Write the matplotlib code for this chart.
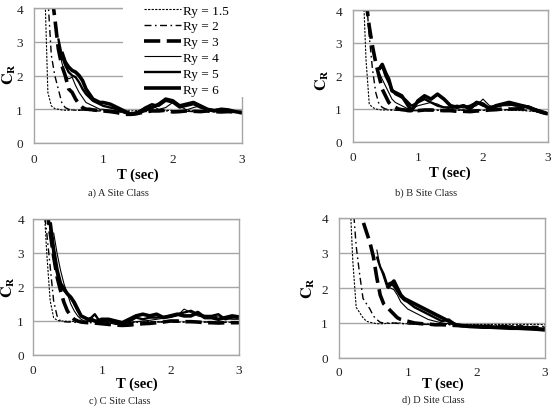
import numpy as np
import matplotlib
matplotlib.use("Agg")
import matplotlib.pyplot as plt
from matplotlib.patches import Rectangle

plt.rcParams['font.family'] = ['Liberation Serif', 'DejaVu Serif']
plt.rcParams['mathtext.fontset'] = 'stix'

nan = np.nan
T = [0.15, 0.2, 0.25, 0.3, 0.35, 0.4, 0.45, 0.5, 0.55, 0.6, 0.65, 0.7, 0.75, 0.8, 0.85, 0.9, 0.95, 1.0,
     1.1, 1.2, 1.3, 1.4, 1.5, 1.6, 1.7, 1.8, 1.9, 2.0, 2.1, 2.2, 2.3, 2.4, 2.5, 2.6, 2.7, 2.8, 2.9, 3.0]

labels = ['Ry = 1.5', 'Ry = 2', 'Ry = 3', 'Ry = 4', 'Ry = 5', 'Ry = 6']
captions = ['a) A Site Class', 'b) B Site Class', 'c) C Site Class', 'd) D Site Class']
x_ticks = [0, 1, 2, 3]
y_ticks = [0, 1, 2, 3, 4]

# Site class A
a_ry15 = [5.0, 1.5, 1.1, 1.02, 1.0, 0.98, 0.97, 0.97, 0.98, 0.97, 0.97, 0.98, 0.97, 0.97, 0.98, 0.97, 0.97, 0.97,
          0.97, 0.96, 0.96, 0.95, 0.96, 0.97, 0.97, 0.96, 0.97, 0.96, 0.95, 0.96, 0.96, 0.95, 0.95, 0.94, 0.94, 0.93, 0.92, 0.90]
a_ry2 = [nan, 4.3, 2.6, 2.0, 1.6, 1.2, 1.05, 1.0, 0.98, 0.97, 0.97, 0.98, 0.97, 0.96, 0.96, 0.95, 0.95, 0.95,
         0.94, 0.93, 0.9, 0.88, 0.9, 0.93, 0.95, 0.96, 0.95, 0.95, 0.94, 0.94, 0.93, 0.94, 0.93, 0.93, 0.92, 0.92, 0.91, 0.9]
a_ry3 = [nan, nan, 4.5, 3.7, 2.8, 2.3, 2.0, 1.6, 1.5, 1.3, 1.15, 1.05, 1.0, 1.0, 0.98, 0.97, 0.96, 0.95,
         0.93, 0.9, 0.85, 0.85, 0.88, 0.92, 0.95, 0.95, 0.97, 0.92, 0.93, 0.95, 0.94, 0.93, 0.95, 0.93, 0.92, 0.93, 0.92, 0.9]
a_ry4 = [nan, nan, nan, nan, 3.0, 2.4, 2.0, 1.9, 1.95, 1.7, 1.5, 1.35, 1.2, 1.15, 1.1, 1.05, 1.0, 1.0,
         0.97, 0.95, 0.9, 0.88, 0.95, 1.05, 1.1, 1.0, 1.05, 1.2, 1.1, 0.98, 1.05, 1.1, 1.0, 0.95, 0.95, 0.97, 0.93, 0.9]
a_ry5 = [nan, nan, nan, nan, 3.1, 2.6, 2.3, 2.1, 2.0, 1.95, 1.8, 1.6, 1.45, 1.35, 1.25, 1.2, 1.15, 1.1,
         1.05, 1.0, 0.9, 0.85, 0.9, 1.05, 1.15, 1.1, 1.25, 1.2, 1.05, 1.1, 1.15, 1.05, 1.0, 0.98, 1.0, 0.95, 0.93, 0.9]
a_ry6 = [nan, nan, nan, nan, nan, 2.7, 2.4, 2.25, 2.15, 2.1, 2.0, 1.85, 1.6, 1.45, 1.3, 1.25, 1.2, 1.2,
         1.15, 1.05, 0.95, 0.85, 0.88, 0.98, 1.05, 1.15, 1.3, 1.25, 1.1, 1.15, 1.2, 1.1, 1.0, 0.95, 1.0, 0.98, 0.93, 0.9]

# Site class B
b_ry15 = [5.0, 2.5, 1.15, 1.05, 1.0, 0.98, 0.97, 0.97, 0.97, 0.97, 0.96, 0.96, 0.96, 0.96, 0.96, 0.96, 0.96, 0.96,
          0.96, 0.97, 0.97, 0.96, 0.96, 0.96, 0.96, 0.96, 0.97, 0.96, 0.96, 0.97, 0.97, 0.96, 0.96, 0.95, 0.94, 0.92, 0.88, 0.85]
b_ry2 = [nan, 4.5, 3.2, 2.2, 1.5, 1.15, 1.05, 1.0, 0.98, 0.97, 0.96, 0.96, 0.96, 0.95, 0.95, 0.95, 0.95, 0.95,
         0.95, 0.95, 0.96, 0.96, 0.96, 0.97, 0.97, 0.97, 0.97, 0.97, 0.97, 0.98, 0.98, 0.98, 0.97, 0.97, 0.96, 0.95, 0.9, 0.85]
b_ry3 = [nan, 4.3, 3.5, 2.9, 2.4, 2.0, 1.6, 1.4, 1.2, 1.1, 1.05, 1.0, 0.98, 0.97, 0.95, 0.95, 0.95, 0.95,
         0.97, 0.97, 0.96, 0.95, 0.95, 0.93, 0.93, 0.92, 0.94, 0.95, 0.97, 0.98, 1.0, 1.0, 1.0, 1.02, 1.0, 0.97, 0.9, 0.85]
b_ry4 = [nan, nan, nan, nan, nan, 2.1, 1.9, 1.7, 1.5, 1.3, 1.2, 1.15, 1.1, 1.05, 1.0, 1.0, 1.05, 1.1,
         1.15, 1.2, 1.15, 1.05, 1.0, 1.05, 1.1, 1.05, 1.1, 1.3, 1.1, 1.05, 1.1, 1.1, 1.15, 1.1, 1.05, 1.0, 0.92, 0.85]
b_ry5 = [nan, nan, nan, nan, nan, 2.2, 2.3, 2.0, 1.8, 1.6, 1.45, 1.4, 1.35, 1.3, 1.2, 1.1, 1.15, 1.2,
         1.3, 1.2, 1.1, 1.05, 1.05, 1.1, 1.05, 1.1, 1.2, 1.1, 1.05, 1.1, 1.12, 1.15, 1.1, 1.1, 1.08, 1.0, 0.92, 0.85]
b_ry6 = [nan, nan, nan, nan, nan, 2.2, 2.35, 2.1, 1.9, 1.55, 1.5, 1.45, 1.4, 1.25, 1.1, 0.95, 1.1, 1.25,
         1.4, 1.3, 1.45, 1.3, 1.1, 1.05, 1.1, 1.0, 1.2, 1.15, 1.0, 1.1, 1.15, 1.2, 1.15, 1.1, 1.05, 0.97, 0.92, 0.85]

# Site class C
c_ry15 = [4.8, 3.0, 1.6, 1.1, 1.02, 1.0, 1.0, 0.99, 0.99, 0.99, 0.98, 0.98, 0.98, 0.98, 0.98, 0.98, 0.98, 0.98,
          0.98, 0.98, 0.98, 0.98, 0.98, 0.98, 0.98, 0.98, 0.98, 0.98, 0.97, 0.97, 0.97, 0.97, 0.97, 0.97, 0.97, 0.97, 0.96, 0.96]
c_ry2 = [4.5, 3.6, 2.6, 1.6, 1.15, 1.0, 0.98, 0.97, 0.97, 0.96, 0.96, 0.96, 0.95, 0.95, 0.95, 0.95, 0.95, 0.95,
         0.95, 0.94, 0.94, 0.95, 0.96, 0.96, 0.97, 0.97, 0.97, 0.97, 0.97, 0.97, 0.97, 0.97, 0.97, 0.97, 0.96, 0.96, 0.96, 0.95]
c_ry3 = [nan, 4.3, 3.6, 2.9, 2.3, 1.9, 1.55, 1.3, 1.15, 1.05, 1.0, 0.97, 0.96, 0.95, 0.95, 0.94, 0.93, 0.92,
         0.9, 0.88, 0.87, 0.88, 0.9, 0.92, 0.93, 0.95, 0.97, 1.0, 1.0, 0.98, 0.98, 0.97, 0.95, 0.95, 0.94, 0.95, 0.95, 0.95]
c_ry4 = [nan, nan, nan, 3.6, 3.0, 2.5, 2.1, 1.8, 1.5, 1.3, 1.15, 1.05, 1.0, 1.0, 0.98, 1.0, 1.0, 1.0,
         0.95, 0.9, 0.88, 0.92, 0.98, 1.0, 1.02, 1.05, 1.08, 1.1, 1.15, 1.35, 1.25, 1.15, 1.1, 1.1, 1.15, 1.08, 1.05, 1.05]
c_ry5 = [nan, nan, 3.8, 3.0, 2.4, 2.0, 1.9, 1.8, 1.7, 1.5, 1.3, 1.15, 1.1, 1.05, 1.1, 1.2, 1.05, 1.0,
         1.0, 0.95, 0.9, 0.98, 1.1, 1.05, 1.1, 1.1, 1.12, 1.15, 1.2, 1.25, 1.3, 1.2, 1.15, 1.15, 1.2, 1.05, 1.1, 1.1]
c_ry6 = [nan, nan, 3.9, 3.1, 2.5, 2.1, 1.95, 1.8, 1.7, 1.55, 1.35, 1.15, 1.1, 1.05, 1.05, 1.0, 1.0, 1.05,
         1.05, 1.0, 0.95, 1.05, 1.15, 1.2, 1.15, 1.2, 1.1, 1.15, 1.2, 1.15, 1.15, 1.25, 1.1, 1.1, 1.05, 1.1, 1.15, 1.12]

# Site class D
d_ry15 = [5.0, 2.8, 1.45, 1.3, 1.15, 1.05, 1.02, 1.0, 0.98, 0.98, 0.98, 0.99, 0.99, 1.0, 1.0, 1.0, 0.98, 0.98,
          0.97, 0.97, 0.97, 0.96, 0.96, 0.96, 0.96, 0.96, 0.96, 0.96, 0.96, 0.96, 0.96, 0.96, 0.96, 0.96, 0.96, 0.96, 0.96, 0.95]
d_ry2 = [nan, 4.5, 3.2, 2.4, 1.7, 1.55, 1.4, 1.2, 1.1, 1.02, 1.0, 1.0, 1.0, 1.0, 0.99, 0.98, 0.98, 0.97,
         0.97, 0.96, 0.96, 0.95, 0.95, 0.95, 0.94, 0.94, 0.94, 0.94, 0.93, 0.93, 0.93, 0.93, 0.92, 0.92, 0.92, 0.91, 0.9, 0.9]
d_ry3 = [nan, nan, nan, 4.5, 3.9, 3.6, 3.3, 2.9, 2.3, 1.8, 1.55, 1.45, 1.35, 1.25, 1.15, 1.1, 1.07, 1.05,
         1.0, 0.98, 0.97, 0.95, 0.95, 0.94, 0.93, 0.92, 0.92, 0.91, 0.9, 0.9, 0.9, 0.89, 0.88, 0.88, 0.87, 0.86, 0.85, 0.85]
d_ry4 = [nan, nan, nan, nan, nan, nan, nan, nan, 3.1, 2.6, 2.3, 2.0, 2.0, 1.95, 1.8, 1.6, 1.5, 1.4,
         1.3, 1.2, 1.1, 1.05, 1.0, 0.98, 0.95, 0.93, 0.92, 0.92, 0.92, 0.91, 0.9, 0.9, 0.9, 0.89, 0.88, 0.87, 0.86, 0.85]
d_ry5 = [nan, nan, nan, nan, nan, nan, nan, nan, 2.9, 2.6, 2.4, 2.1, 2.15, 2.05, 1.9, 1.75, 1.65, 1.6,
         1.45, 1.35, 1.25, 1.15, 1.05, 1.1, 0.95, 0.93, 0.92, 0.9, 0.9, 0.9, 0.89, 0.88, 0.88, 0.87, 0.86, 0.85, 0.84, 0.83]
d_ry6 = [nan, nan, nan, nan, nan, nan, nan, nan, nan, nan, nan, 2.0, 2.1, 2.2, 2.0, 1.8, 1.7, 1.65,
         1.55, 1.45, 1.35, 1.25, 1.15, 1.05, 0.95, 0.92, 0.9, 0.89, 0.88, 0.88, 0.87, 0.86, 0.85, 0.85, 0.84, 0.83, 0.82, 0.8]

panels = [
    [a_ry15, a_ry2, a_ry3, a_ry4, a_ry5, a_ry6],
    [b_ry15, b_ry2, b_ry3, b_ry4, b_ry5, b_ry6],
    [c_ry15, c_ry2, c_ry3, c_ry4, c_ry5, c_ry6],
    [d_ry15, d_ry2, d_ry3, d_ry4, d_ry5, d_ry6],
]

styles = [
    dict(ls=(0, (2.0, 1.2)), lw=0.8),
    dict(ls=(0, (5, 2.5, 1.2, 2.5)), lw=1.0),
    dict(ls=(0, (4.5, 1.8)), lw=2.6),
    dict(ls='-', lw=0.8),
    dict(ls='-', lw=1.7),
    dict(ls='-', lw=2.6),
]

W, H = 552, 410
fig = plt.figure(figsize=(W / 100, H / 100), dpi=100)

# axes boxes in pixels: (left, right, top, bottom)
boxes = [(34, 242, 9, 144), (353, 548, 11, 143), (33, 239, 220, 356), (339, 545, 219, 359)]
cap_pos = [(118, 193), (426, 193), (120, 401), (433, 400)]
xlab_pos = [(138, 175), (450, 173), (137, 384), (443, 384)]
ylab_pos = [(9, 74), (322, 80), (8, 287), (308, 288)]
xtick_pad = [7.5, 6.5, 6.5, 6.0]
ytick_pad = [8, 8, 6.5, 8]
grey = '#a6a6a6'

for k, (l, r, t, b) in enumerate(boxes):
    ax = fig.add_axes([l / W, 1 - b / H, (r - l) / W, (b - t) / H])
    for series, st in zip(panels[k], styles):
        ax.plot(T, series, color='black', solid_capstyle='butt', dash_capstyle='butt', **st)
    ax.set_xlim(0, 3)
    ax.set_ylim(0, 4)
    ax.set_xticks(x_ticks)
    ax.set_yticks(y_ticks)
    ax.tick_params(length=0, labelsize=9.5, colors='#222222')
    ax.tick_params(axis='x', pad=xtick_pad[k])
    ax.tick_params(axis='y', pad=ytick_pad[k])
    ax.yaxis.grid(True, color=grey, lw=1.0)
    ax.set_axisbelow(True)
    for s in ax.spines.values():
        s.set_color(grey)
        s.set_linewidth(1.0)
    ax.set_xlabel('T (sec)', fontsize=10.5, fontweight='bold', va='center', ha='center')
    ax.xaxis.set_label_coords(xlab_pos[k][0] / W, 1 - xlab_pos[k][1] / H, transform=fig.transFigure)
    ax.set_ylabel(r'$\mathbf{C}_\mathbf{R}$', fontsize=11.5, va='center', ha='center')
    ax.yaxis.set_label_coords(ylab_pos[k][0] / W, 1 - ylab_pos[k][1] / H, transform=fig.transFigure)
    fig.text(cap_pos[k][0] / W, 1 - cap_pos[k][1] / H, captions[k], fontsize=7.5,
             ha='center', va='center', color='#222222')
    if k == 0:
        ax.add_patch(Rectangle((123 / W, 1 - 98 / H), 125 / W, 98 / H, transform=fig.transFigure,
                               facecolor='white', edgecolor='none', zorder=4, clip_on=False))
        leg = ax.legend(labels, loc='upper left', bbox_to_anchor=(143 / W, 1 - 4 / H),
                        bbox_transform=fig.transFigure, frameon=False, fontsize=9.5,
                        handlelength=2.8, handletextpad=0.1, labelspacing=0.27,
                        borderpad=0.1, borderaxespad=0)
        leg.set_zorder(6)

fig.savefig('out.png', dpi=100)
